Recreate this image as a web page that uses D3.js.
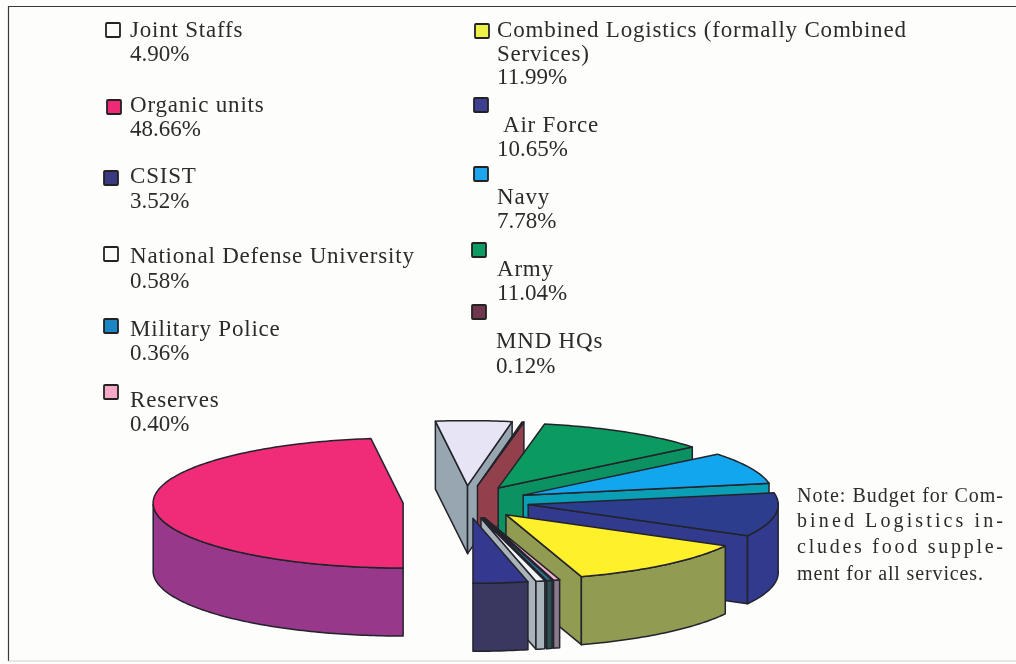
<!DOCTYPE html>
<html>
<head>
<meta charset="utf-8">
<script src="https://cdnjs.cloudflare.com/ajax/libs/d3/7.8.5/d3.min.js"></script>
<style>
html,body{margin:0;padding:0;background:#fdfdfc;overflow:hidden}
svg{display:block;filter:blur(0.35px)}
text{font-family:"Liberation Serif",serif;fill:#2b2b2b}
</style>
</head>
<body>
<svg id="c" width="1016" height="664"></svg>
<script>
// Data, clockwise from the bottom of the pie
const categories = ["Organic units","Joint Staffs","MND HQs","Army","Navy","Air Force",
  "Combined Logistics","Reserves","Military Police","National Defense University","CSIST"];
const shares = [48.66,4.90,0.12,11.04,7.78,10.65,11.99,0.40,0.36,0.58,3.52];
const topColors  = ["#f02c78","#e7e5f5","#8f3f4b","#0b9a5f","#12a6ee","#2d3d8e","#fff02c","#f5b5d0","#2b6f8c","#f4f4f6","#34388f"];
const wallColors = ["#98388a","#98a6b1","#92404b","#0c9162","#0a9fb4","#313a8c","#919b52","#8b7a8c","#2f4f52","#a9b3ba","#3a3860"];

// Legend
const legendNames = ["Joint Staffs","Organic units","CSIST","National Defense University","Military Police","Reserves",
  "Combined Logistics (formally Combined","Air Force","Navy","Army","MND HQs"];
const legendValues = ["4.90%","48.66%","3.52%","0.58%","0.36%","0.40%","11.99%","10.65%","7.78%","11.04%","0.12%"];
const legendSwatch = ["#fbfbfb","#ee2a76","#3a3a80","#fbfbfb","#1c86c4","#f6a9c6","#eef04a","#3f3f8f","#1ea5ee","#0f9a63","#70364e"];
const noteLines = ["Note: Budget for Com-","bined Logistics in-","cludes food supple-","ment for all services."];

// Layout
const W = 1016, H = 664;
const cx = 466, cy = 502, rx = 250, ry = 65, depth = 68, explode = 63;
const skewAmount = 0.045; // the scanned pie leans a little: top of the ellipse sits further round
const legendPlace = [
  {sx:106,sy:23,x:130,y1:37,y2:61},
  {sx:107,sy:100,x:130,y1:112,y2:136},
  {sx:104,sy:171,x:130,y1:183,y2:208},
  {sx:104,sy:247,x:130,y1:263,y2:288},
  {sx:104,sy:319,x:130,y1:336,y2:360},
  {sx:104,sy:385,x:130,y1:407,y2:431},
  {sx:475,sy:24,x:497,y1:37,y2:84},
  {sx:474,sy:98,x:503,y1:132,y2:156,x2:497},
  {sx:474,sy:167,x:497,y1:204,y2:228},
  {sx:472,sy:243,x:497,y1:276,y2:300},
  {sx:472,sy:305,x:496,y1:348,y2:373}
];
const noteY = [502,527,553,580], noteW = [206,206,206,186];

const svg = d3.select("#c");

// Frame of the scanned page
const frame = svg.append("g").attr("fill","none").attr("stroke","#3a3a3a");
frame.append("path").attr("d",d3.line()([[8.5,H-3],[8.5,6.5],[W,6.5]])).attr("stroke-width",1.2);
frame.append("path").attr("d",d3.line()([[8.5,H-3],[W,H-3]])).attr("stroke","#cfcfcf");

// Pie, projected onto an ellipse
const pie = d3.pie().sort(null).value(d=>d).startAngle(Math.PI).endAngle(3*Math.PI);
const arcs = pie(shares);
const line = d3.line().curve(d3.curveLinearClosed);
const lean = t => t - skewAmount*(1-Math.cos(t-Math.PI))/2;
function drawSlice(g,a,i){
  const mid = lean((a.startAngle+a.endAngle)/2);
  const ox = cx + explode*Math.sin(mid), oy = cy - explode*(ry/rx)*Math.cos(mid);
  const pt = (t,dz=0)=>[ox+rx*Math.sin(lean(t)), oy-ry*Math.cos(lean(t))+dz];
  const sweep = (t0,t1,dz)=>{const n=Math.max(2,Math.ceil((t1-t0)*60));
    return d3.range(n+1).map(k=>pt(t0+(t1-t0)*k/n,dz));};
  const apex=[ox,oy], apexB=[ox,oy+depth];
  const paint=(pts,fill)=>g.append("path").attr("d",line(pts)).attr("fill",fill)
      .attr("stroke","#23232b").attr("stroke-width",1.5).attr("stroke-linejoin","round");
  // radial faces turned to the viewer
  if(Math.sin(a.startAngle)<-1e-6) paint([apex,pt(a.startAngle),pt(a.startAngle,depth),apexB],wallColors[i]);
  if(Math.sin(a.endAngle)>1e-6)  paint([apex,pt(a.endAngle),pt(a.endAngle,depth),apexB],wallColors[i]);
  // outer rim where it faces front
  const tau=2*Math.PI;
  [[Math.PI/2,3*Math.PI/2],[Math.PI/2+tau,3*Math.PI/2+tau]].forEach(([lo,hi])=>{
    const t0=Math.max(a.startAngle,lo), t1=Math.min(a.endAngle,hi);
    if(t1>t0) paint(sweep(t0,t1,0).concat(sweep(t0,t1,depth).reverse()),wallColors[i]);
  });
  // top
  paint([apex].concat(sweep(a.startAngle,a.endAngle,0)),topColors[i]);
}
const pieG = svg.append("g");
arcs.forEach((a,i)=>drawSlice(pieG.append("g").attr("class","slice").datum(categories[i]),a,i));

// Legend
const fs = 23, ls = 0.8;
const lg = svg.append("g").attr("font-size",fs).attr("letter-spacing",ls);
legendNames.forEach((n,i)=>{
  const p = legendPlace[i];
  lg.append("rect").attr("x",p.sx).attr("y",p.sy).attr("width",14).attr("height",14).attr("rx",1)
    .attr("fill",legendSwatch[i]).attr("stroke","#222").attr("stroke-width",1.8);
  lg.append("text").attr("x",p.x).attr("y",p.y1).text(n);
  lg.append("text").attr("x",p.x2||p.x).attr("y",p.y2).attr("letter-spacing",0).text(legendValues[i]);
});
lg.append("text").attr("x",497).attr("y",61).text("Services)");

// Note, justified
const ng = svg.append("g").attr("font-size",20);
noteLines.forEach((t,i)=>{
  ng.append("text").attr("x",797).attr("y",noteY[i]).attr("textLength",noteW[i]).attr("lengthAdjust","spacing").text(t);
});
</script>
</body>
</html>
